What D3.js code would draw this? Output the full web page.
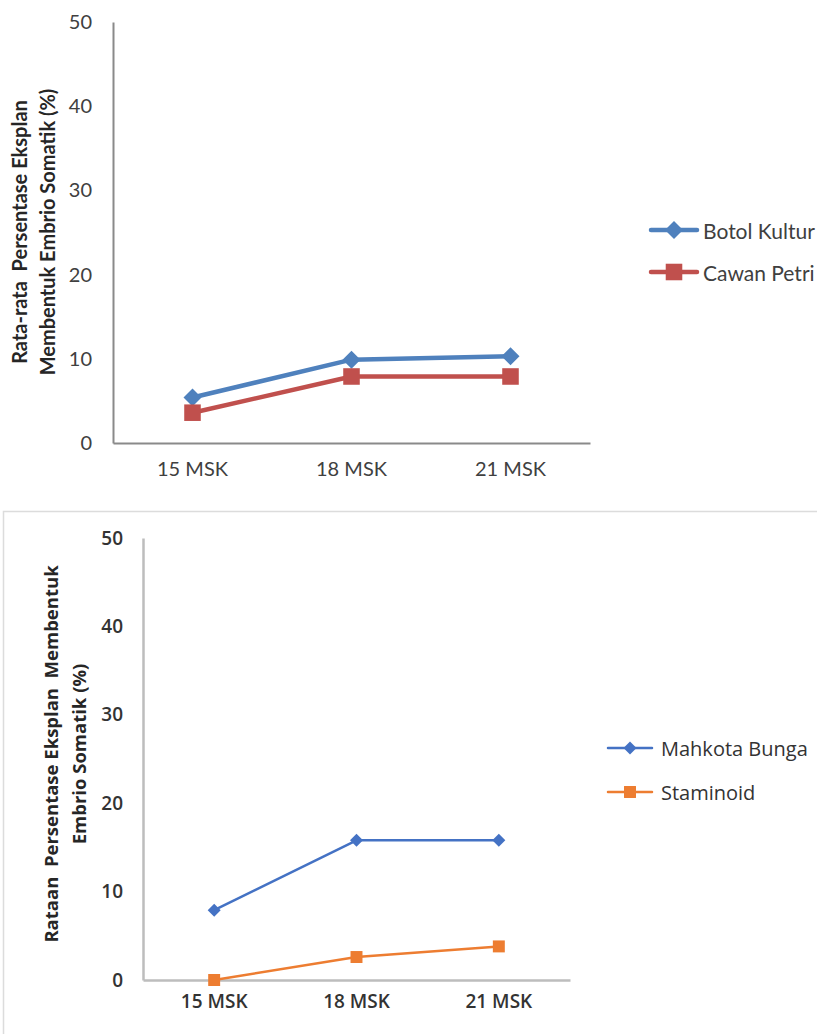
<!DOCTYPE html>
<html>
<head>
<meta charset="utf-8">
<script src="https://cdn.jsdelivr.net/npm/d3@7"></script>
<style>
  html, body { margin: 0; padding: 0; background: #fff; }
  svg { display: block; }
</style>
</head>
<body>
<svg id="chart" width="817" height="1034"></svg>
<script>
// Sampling times (minggu setelah kultur)
const categories = ["15 MSK", "18 MSK", "21 MSK"];
const yTicks = [0, 10, 20, 30, 40, 50];

// Chart A: culture vessel
const seriesANames = ["Botol Kultur", "Cawan Petri"];
const botolKultur = [5.4, 9.9, 10.3];
const cawanPetri = [3.6, 7.9, 7.9];

// Chart B: explant source
const seriesBNames = ["Mahkota Bunga", "Staminoid"];
const mahkotaBunga = [7.9, 15.8, 15.8];
const staminoid = [0, 2.6, 3.8];

const svg = d3.select("#chart");

// Frame around the second chart
svg.append("rect")
  .attr("x", 3.5).attr("y", 511.5)
  .attr("width", 830).attr("height", 540)
  .attr("fill", "none").attr("stroke", "#dcdcdc").attr("stroke-width", 1.5);

function drawChart(cfg) {
  const g = svg.append("g");
  const x = d3.scaleBand().domain(categories).range([cfg.left, cfg.right]);
  const y = d3.scaleLinear().domain([0, 50]).range([cfg.bottom, cfg.top]);

  // y axis
  const ya = g.append("g")
    .attr("transform", `translate(${cfg.left},0)`)
    .call(d3.axisLeft(y).tickValues(yTicks).tickSize(0).tickPadding(cfg.yPad));
  ya.select(".domain").attr("stroke", cfg.axisColor).attr("stroke-width", cfg.axisWidth);
  ya.selectAll("text")
    .attr("font-family", cfg.font).attr("font-size", cfg.tickSize)
    .attr("font-weight", cfg.tickWeight).attr("fill", cfg.textColor);

  // x axis
  const xa = g.append("g")
    .attr("transform", `translate(0,${cfg.bottom})`)
    .call(d3.axisBottom(x).tickSize(0).tickPadding(cfg.xPad));
  xa.select(".domain").attr("stroke", cfg.axisColor).attr("stroke-width", cfg.axisWidth);
  xa.selectAll("text")
    .attr("font-family", cfg.font).attr("font-size", cfg.tickSize)
    .attr("font-weight", cfg.tickWeight).attr("fill", cfg.textColor);

  // y axis title (two lines, rotated)
  cfg.title.forEach((line, i) => {
    g.append("text")
      .attr("transform", `translate(${cfg.titleX[i]},${cfg.titleY}) rotate(-90)`)
      .attr("text-anchor", "middle").attr("dominant-baseline", "central")
      .attr("font-family", cfg.font).attr("font-size", cfg.titleSize)
      .attr("font-weight", "bold").attr("fill", cfg.titleColor)
      .attr("xml:space", "preserve")
      .text(line);
  });

  const line = d3.line().x((d, i) => x(categories[i]) + x.bandwidth() / 2).y(d => y(d));

  cfg.series.forEach(s => {
    g.append("path").datum(s.values)
      .attr("d", line).attr("fill", "none")
      .attr("stroke", s.color).attr("stroke-width", cfg.lineWidth)
      .attr("stroke-linejoin", "round").attr("stroke-linecap", "round");
    g.selectAll(null).data(s.values).enter().append("path")
      .attr("transform", (d, i) => `translate(${x(categories[i]) + x.bandwidth() / 2},${y(d)})`)
      .attr("d", marker(s.shape, cfg.markerSize))
      .attr("fill", s.color);
  });

  // legend
  cfg.series.forEach((s, i) => {
    const ly = cfg.legendY[i];
    g.append("line")
      .attr("x1", cfg.legendX1).attr("x2", cfg.legendX2)
      .attr("y1", ly).attr("y2", ly)
      .attr("stroke", s.color).attr("stroke-width", cfg.lineWidth)
      .attr("stroke-linecap", "round");
    g.append("path")
      .attr("transform", `translate(${(cfg.legendX1 + cfg.legendX2) / 2},${ly})`)
      .attr("d", marker(s.shape, cfg.markerSize))
      .attr("fill", s.color);
    g.append("text")
      .attr("x", cfg.legendTextX).attr("y", ly)
      .attr("dominant-baseline", "central")
      .attr("font-family", cfg.font).attr("font-size", cfg.legendSize)
      .attr("font-weight", cfg.legendWeight).attr("fill", cfg.textColor)
      .text(s.name);
  });
}

function marker(shape, size) {
  const h = size / 2;
  if (shape === "diamond") {
    return `M0,${-h}L${h},0L0,${h}L${-h},0Z`;
  }
  const s = h * 0.92;
  return `M${-s},${-s}H${s}V${s}H${-s}Z`;
}

drawChart({
  left: 113, right: 590, top: 22, bottom: 443,
  axisColor: "#8a8a8a", axisWidth: 2,
  font: "Lato, 'Open Sans', sans-serif",
  tickSize: 20, tickWeight: "normal", textColor: "#404040",
  yPad: 21, xPad: 19,
  title: ["Rata-rata  Persentase Eksplan", "Membentuk Embrio Somatik (%)"],
  titleX: [19, 47], titleY: 232, titleSize: 20, titleColor: "#262626",
  lineWidth: 4.5, markerSize: 18,
  series: [
    { name: seriesANames[0], values: botolKultur, color: "#4f81bd", shape: "diamond" },
    { name: seriesANames[1], values: cawanPetri, color: "#c0504d", shape: "square" }
  ],
  legendX1: 651, legendX2: 697, legendY: [230, 272], legendTextX: 703,
  legendSize: 21, legendWeight: "normal"
});

drawChart({
  left: 143, right: 570, top: 538, bottom: 980,
  axisColor: "#bdbdbd", axisWidth: 2.5,
  font: "'Open Sans', 'Noto Sans', sans-serif",
  tickSize: 19, tickWeight: 600, textColor: "#333333",
  yPad: 20, xPad: 15,
  title: ["Rataan  Persentase Eksplan  Membentuk", "Embrio Somatik (%)"],
  titleX: [50, 78], titleY: 754, titleSize: 18.5, titleColor: "#262626",
  lineWidth: 2.5, markerSize: 13,
  series: [
    { name: seriesBNames[0], values: mahkotaBunga, color: "#4472c4", shape: "diamond" },
    { name: seriesBNames[1], values: staminoid, color: "#ed7d31", shape: "square" }
  ],
  legendX1: 608, legendX2: 652, legendY: [748, 792], legendTextX: 661,
  legendSize: 20, legendWeight: 500
});
</script>
</body>
</html>
